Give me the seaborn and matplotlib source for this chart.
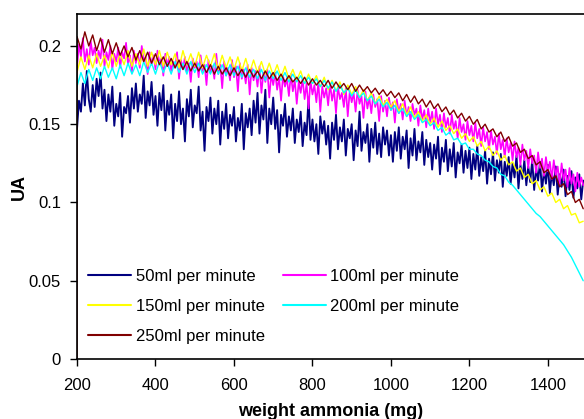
import matplotlib
matplotlib.use("Agg")
import matplotlib.pyplot as plt
from matplotlib.lines import Line2D
from matplotlib.ticker import FuncFormatter
import seaborn as sns
import pandas as pd

# ---------------- data ----------------
weight_fine = list(range(200, 1495, 5))   # mg, 50 & 100 ml series
weight = list(range(200, 1500, 10))       # mg, other series

ua_50 = [0.147, 0.165, 0.158, 0.176, 0.162, 0.184, 0.166, 0.158, 0.175, 0.161,
         0.179, 0.168, 0.183, 0.160, 0.172, 0.152, 0.169, 0.158, 0.174, 0.149,
         0.163, 0.155, 0.170, 0.142, 0.161, 0.157, 0.168, 0.151, 0.173, 0.160,
         0.176, 0.158, 0.169, 0.163, 0.181, 0.154, 0.171, 0.162, 0.177, 0.156,
         0.168, 0.149, 0.170, 0.159, 0.175, 0.146, 0.165, 0.156, 0.169, 0.141,
         0.163, 0.152, 0.171, 0.150, 0.160, 0.139, 0.166, 0.155, 0.172, 0.148,
         0.162, 0.157, 0.174, 0.146, 0.158, 0.133, 0.161, 0.152, 0.167, 0.144,
         0.160, 0.150, 0.165, 0.137, 0.158, 0.147, 0.163, 0.141, 0.156, 0.149,
         0.161, 0.139, 0.154, 0.146, 0.163, 0.134, 0.157, 0.148, 0.160, 0.143,
         0.165, 0.151, 0.170, 0.144, 0.162, 0.153, 0.172, 0.138, 0.160, 0.150,
         0.167, 0.147, 0.159, 0.132, 0.156, 0.149, 0.163, 0.142, 0.155, 0.146,
         0.160, 0.138, 0.153, 0.145, 0.158, 0.136, 0.151, 0.143, 0.167, 0.140,
         0.153, 0.139, 0.150, 0.131, 0.155, 0.144, 0.152, 0.137, 0.149, 0.128,
         0.151, 0.140, 0.156, 0.134, 0.148, 0.139, 0.153, 0.130, 0.147, 0.141,
         0.150, 0.127, 0.146, 0.136, 0.158, 0.133, 0.145, 0.138, 0.150, 0.126,
         0.147, 0.135, 0.151, 0.131, 0.144, 0.129, 0.148, 0.137, 0.146, 0.130,
         0.143, 0.126, 0.145, 0.133, 0.148, 0.128, 0.142, 0.134, 0.146, 0.122,
         0.141, 0.130, 0.147, 0.127, 0.139, 0.132, 0.145, 0.124, 0.140, 0.129,
         0.138, 0.121, 0.137, 0.128, 0.142, 0.118, 0.135, 0.126, 0.140, 0.120,
         0.134, 0.123, 0.138, 0.116, 0.132, 0.125, 0.137, 0.119, 0.133, 0.122,
         0.135, 0.115, 0.131, 0.121, 0.136, 0.117, 0.129, 0.120, 0.133, 0.112,
         0.128, 0.118, 0.132, 0.114, 0.127, 0.119, 0.131, 0.110, 0.126, 0.117,
         0.129, 0.112, 0.125, 0.116, 0.130, 0.109, 0.124, 0.115, 0.127, 0.111,
         0.123, 0.113, 0.127, 0.108, 0.122, 0.114, 0.126, 0.107, 0.121, 0.112,
         0.124, 0.106, 0.119, 0.111, 0.123, 0.105, 0.118, 0.110, 0.121, 0.104,
         0.117, 0.108, 0.120, 0.103, 0.116, 0.109, 0.118, 0.102, 0.114]

ua_100 = [0.186, 0.201, 0.193, 0.205, 0.190, 0.198, 0.188, 0.203, 0.194, 0.199,
          0.189, 0.197, 0.192, 0.204, 0.187, 0.196, 0.191, 0.200, 0.185, 0.195,
          0.190, 0.199, 0.186, 0.196, 0.192, 0.202, 0.188, 0.194, 0.183, 0.197,
          0.189, 0.195, 0.186, 0.200, 0.190, 0.193, 0.182, 0.196, 0.188, 0.194,
          0.185, 0.197, 0.189, 0.192, 0.181, 0.195, 0.187, 0.193, 0.184, 0.190,
          0.186, 0.196, 0.179, 0.191, 0.185, 0.193, 0.183, 0.189, 0.177, 0.192,
          0.186, 0.190, 0.180, 0.194, 0.184, 0.188, 0.175, 0.191, 0.183, 0.187,
          0.179, 0.195, 0.182, 0.188, 0.173, 0.190, 0.181, 0.186, 0.178, 0.191,
          0.180, 0.187, 0.171, 0.189, 0.179, 0.185, 0.176, 0.188, 0.169, 0.186,
          0.178, 0.184, 0.174, 0.187, 0.170, 0.183, 0.177, 0.185, 0.167, 0.182,
          0.175, 0.183, 0.172, 0.180, 0.165, 0.181, 0.174, 0.179, 0.168, 0.182,
          0.171, 0.178, 0.163, 0.177, 0.170, 0.179, 0.166, 0.176, 0.160, 0.178,
          0.169, 0.175, 0.164, 0.177, 0.158, 0.174, 0.167, 0.173, 0.162, 0.176,
          0.165, 0.172, 0.157, 0.174, 0.166, 0.170, 0.161, 0.173, 0.155, 0.171,
          0.164, 0.170, 0.158, 0.172, 0.163, 0.168, 0.154, 0.171, 0.160, 0.167,
          0.157, 0.169, 0.161, 0.166, 0.152, 0.168, 0.158, 0.165, 0.155, 0.167,
          0.159, 0.164, 0.151, 0.166, 0.157, 0.163, 0.153, 0.165, 0.155, 0.161,
          0.152, 0.163, 0.156, 0.160, 0.149, 0.162, 0.153, 0.159, 0.148, 0.160,
          0.151, 0.158, 0.147, 0.160, 0.150, 0.156, 0.145, 0.157, 0.148, 0.154,
          0.144, 0.156, 0.147, 0.152, 0.141, 0.154, 0.145, 0.150, 0.140, 0.152,
          0.143, 0.149, 0.139, 0.151, 0.141, 0.147, 0.136, 0.148, 0.139, 0.145,
          0.134, 0.146, 0.137, 0.142, 0.131, 0.144, 0.134, 0.140, 0.129, 0.141,
          0.132, 0.138, 0.127, 0.139, 0.129, 0.135, 0.124, 0.137, 0.127, 0.133,
          0.122, 0.134, 0.125, 0.130, 0.119, 0.132, 0.122, 0.128, 0.117, 0.129,
          0.120, 0.126, 0.115, 0.127, 0.117, 0.123, 0.112, 0.125, 0.114, 0.121,
          0.110, 0.122, 0.112, 0.118, 0.107, 0.119, 0.110, 0.116, 0.111]

ua_150 = [0.183, 0.193, 0.185, 0.194, 0.186, 0.195, 0.187, 0.194, 0.186, 0.196,
          0.187, 0.195, 0.188, 0.197, 0.187, 0.195, 0.188, 0.198, 0.187, 0.196,
          0.188, 0.197, 0.187, 0.196, 0.188, 0.195, 0.186, 0.197, 0.188, 0.195,
          0.187, 0.196, 0.186, 0.194, 0.187, 0.195, 0.185, 0.194, 0.186, 0.193,
          0.185, 0.193, 0.184, 0.192, 0.183, 0.191, 0.183, 0.190, 0.182, 0.189,
          0.181, 0.188, 0.180, 0.187, 0.179, 0.185, 0.178, 0.184, 0.176, 0.182,
          0.176, 0.181, 0.174, 0.180, 0.172, 0.178, 0.171, 0.177, 0.169, 0.175,
          0.169, 0.174, 0.167, 0.172, 0.165, 0.170, 0.163, 0.168, 0.162, 0.166,
          0.161, 0.165, 0.158, 0.163, 0.156, 0.161, 0.154, 0.158, 0.152, 0.156,
          0.150, 0.154, 0.148, 0.152, 0.146, 0.149, 0.144, 0.147, 0.141, 0.144,
          0.139, 0.142, 0.136, 0.139, 0.133, 0.136, 0.130, 0.133, 0.127, 0.130,
          0.124, 0.126, 0.120, 0.122, 0.116, 0.118, 0.112, 0.114, 0.108, 0.110,
          0.104, 0.106, 0.100, 0.102, 0.096, 0.098, 0.092, 0.093, 0.087, 0.088]

ua_200 = [0.174, 0.183, 0.176, 0.185, 0.178, 0.186, 0.179, 0.187, 0.180, 0.186,
          0.179, 0.188, 0.181, 0.189, 0.182, 0.188, 0.181, 0.190, 0.183, 0.189,
          0.182, 0.190, 0.183, 0.189, 0.182, 0.190, 0.183, 0.189, 0.182, 0.190,
          0.183, 0.189, 0.182, 0.188, 0.182, 0.189, 0.182, 0.188, 0.181, 0.188,
          0.181, 0.187, 0.180, 0.186, 0.180, 0.185, 0.179, 0.185, 0.178, 0.184,
          0.179, 0.184, 0.178, 0.183, 0.177, 0.182, 0.177, 0.181, 0.176, 0.180,
          0.176, 0.179, 0.174, 0.178, 0.173, 0.177, 0.171, 0.175, 0.170, 0.173,
          0.168, 0.172, 0.167, 0.170, 0.165, 0.168, 0.163, 0.166, 0.161, 0.164,
          0.159, 0.162, 0.157, 0.160, 0.155, 0.158, 0.153, 0.156, 0.151, 0.153,
          0.149, 0.151, 0.146, 0.148, 0.143, 0.145, 0.140, 0.141, 0.137, 0.138,
          0.134, 0.134, 0.131, 0.130, 0.127, 0.126, 0.123, 0.122, 0.118, 0.117,
          0.113, 0.111, 0.108, 0.105, 0.102, 0.099, 0.096, 0.093, 0.091, 0.088,
          0.085, 0.082, 0.079, 0.076, 0.073, 0.069, 0.065, 0.060, 0.055, 0.050]

weight_250 = [200] + weight
ua_250 = [0.000,
          0.206, 0.198, 0.209, 0.200, 0.207, 0.197, 0.205, 0.196, 0.204, 0.195,
          0.202, 0.194, 0.200, 0.193, 0.199, 0.191, 0.197, 0.190, 0.196, 0.189,
          0.195, 0.188, 0.193, 0.187, 0.192, 0.186, 0.191, 0.185, 0.190, 0.184,
          0.189, 0.184, 0.188, 0.183, 0.188, 0.182, 0.187, 0.182, 0.186, 0.181,
          0.186, 0.181, 0.185, 0.180, 0.185, 0.180, 0.184, 0.179, 0.184, 0.179,
          0.183, 0.178, 0.182, 0.177, 0.181, 0.177, 0.180, 0.176, 0.180, 0.175,
          0.179, 0.175, 0.178, 0.174, 0.178, 0.173, 0.177, 0.173, 0.176, 0.172,
          0.176, 0.171, 0.175, 0.171, 0.174, 0.170, 0.173, 0.169, 0.172, 0.168,
          0.171, 0.167, 0.170, 0.165, 0.169, 0.164, 0.168, 0.163, 0.166, 0.161,
          0.165, 0.160, 0.163, 0.158, 0.161, 0.156, 0.159, 0.154, 0.157, 0.152,
          0.155, 0.150, 0.153, 0.147, 0.150, 0.145, 0.147, 0.142, 0.145, 0.139,
          0.142, 0.136, 0.138, 0.132, 0.134, 0.128, 0.130, 0.124, 0.126, 0.119,
          0.121, 0.115, 0.117, 0.110, 0.112, 0.105, 0.107, 0.100, 0.102, 0.096]

series_names = ["50ml per minute", "100ml per minute", "150ml per minute",
                "200ml per minute", "250ml per minute"]
series_colors = ["#000080", "#FF00FF", "#FFFF00", "#00FFFF", "#800000"]
x_ticks = [200, 400, 600, 800, 1000, 1200, 1400]
y_ticks = [0, 0.05, 0.1, 0.15, 0.2]

# ---------------- build table ----------------
frames = []
for name, xs, ys in zip(series_names,
                        [weight_fine, weight_fine, weight, weight, weight_250],
                        [ua_50, ua_100, ua_150, ua_200, ua_250]):
    frames.append(pd.DataFrame({"weight": xs, "UA": ys, "series": name}))
df = pd.concat(frames, ignore_index=True)

# ---------------- plot ----------------
sns.set_style("white")
plt.rcParams["font.family"] = ["Liberation Sans", "DejaVu Sans"]
plt.rcParams["text.color"] = "black"
plt.rcParams["axes.labelcolor"] = "black"
plt.rcParams["xtick.color"] = "black"
plt.rcParams["ytick.color"] = "black"

fig = plt.figure(figsize=(5.84, 4.19), dpi=100)
ax = fig.add_axes([77 / 584, 1 - 359 / 419, 1 - 77 / 584, (359 - 14) / 419])

sns.lineplot(data=df, x="weight", y="UA", hue="series",
             hue_order=series_names, palette=series_colors,
             estimator=None, sort=False, lw=1.0, legend=False, ax=ax)

# slightly heavier strokes for the densely sampled noisy series
line_widths = [1.35, 1.2, 1.0, 1.0, 1.0]
for line, lw_ in zip(ax.lines, line_widths):
    line.set_linewidth(lw_)

ax.set_xlim(200, 1492)
ax.set_ylim(0, 0.2204)
ax.set_xticks(x_ticks)
ax.set_yticks(y_ticks)
ax.yaxis.set_major_formatter(FuncFormatter(lambda v, p: "%g" % v))
ax.tick_params(axis="both", which="major", direction="out", length=5,
               width=1, color="black", labelcolor="black", labelsize=12,
               bottom=True, left=True)
ax.tick_params(axis="x", pad=9)
ax.tick_params(axis="y", pad=6.5)

for side in ["left", "bottom", "top"]:
    ax.spines[side].set_color("black")
    ax.spines[side].set_linewidth(1.2)
ax.spines["right"].set_visible(False)

ax.set_xlabel("weight ammonia (mg)", fontsize=13, fontweight="bold",
              labelpad=7, color="black")
ax.set_ylabel("UA", fontsize=13, fontweight="bold", labelpad=1,
              color="black")

order = [0, 2, 4, 1, 3]
handles = [Line2D([0], [0], color=series_colors[i], lw=1.5) for i in order]
labels = [series_names[i] for i in order]
fig.legend(handles, labels, ncol=2, loc="upper left",
           bbox_to_anchor=(88 / 584, 1 - 269 / 419),
           bbox_transform=fig.transFigure, frameon=False, fontsize=12,
           handlelength=2.6, handletextpad=0.25, columnspacing=1.1,
           labelspacing=0.9, borderpad=0, borderaxespad=0)

fig.savefig("out.png", dpi=100)
